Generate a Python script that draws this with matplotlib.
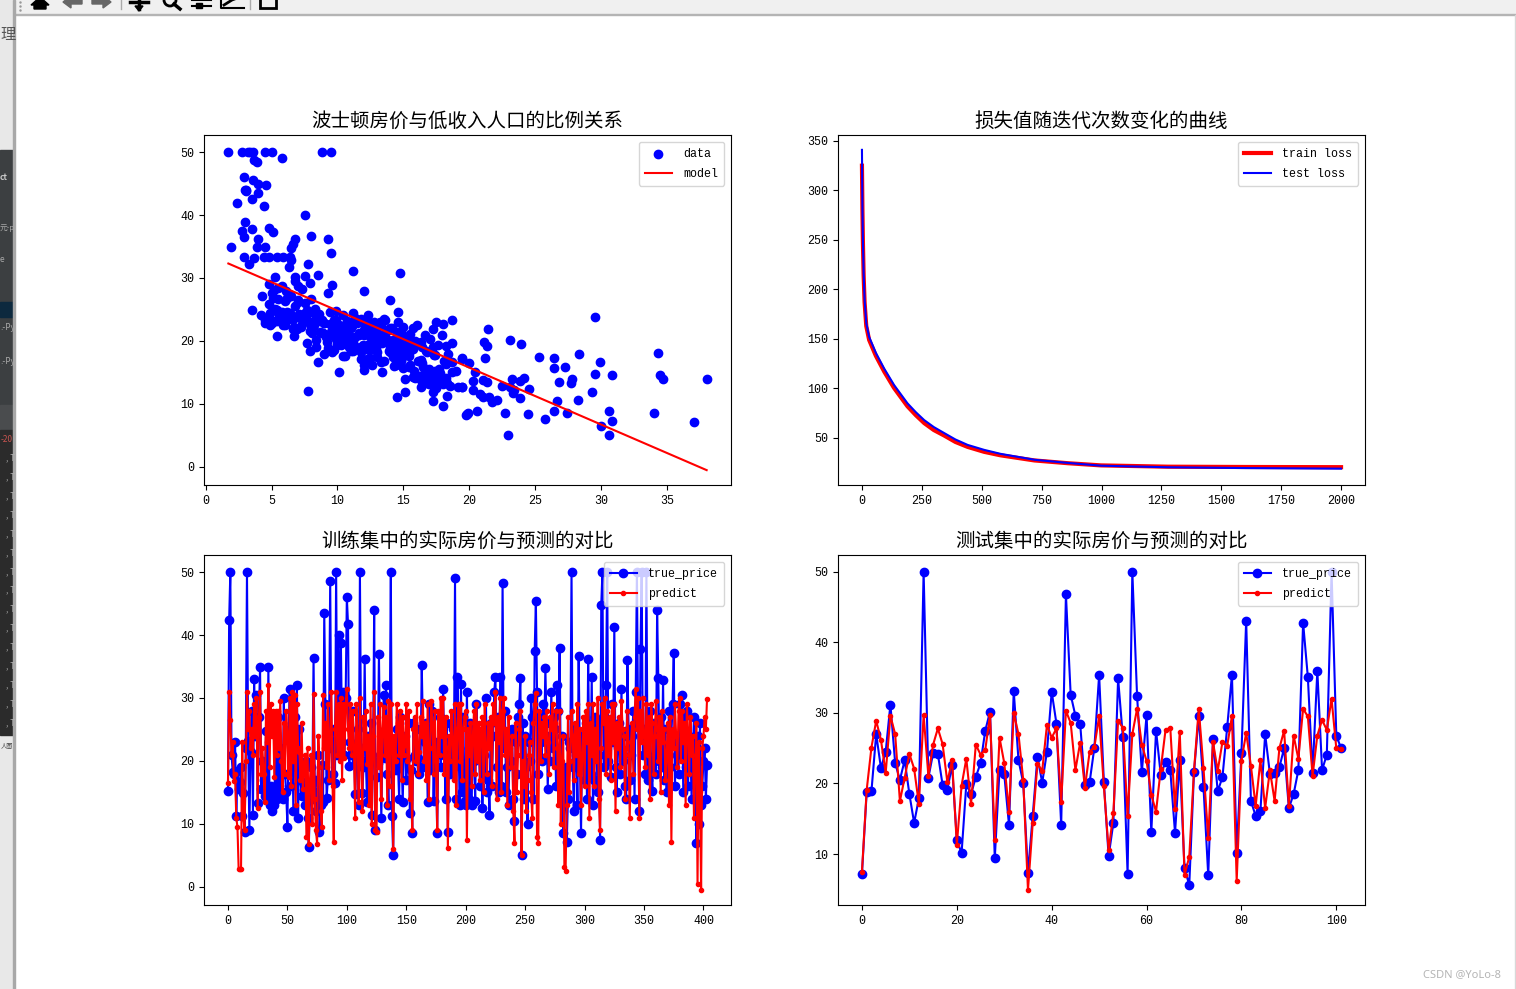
import numpy as np
import matplotlib
matplotlib.use('Agg')
import matplotlib.pyplot as plt
from matplotlib.patches import Rectangle, Polygon, Circle

plt.rcParams['font.family'] = ['Liberation Mono', 'Noto Sans CJK SC', 'DejaVu Sans']
plt.rcParams['axes.unicode_minus'] = False

# scatter: low income share vs price
lstat = [1.7,2.8,3.2,3.4,3.6,4.5,5.0,8.8,9.5,3.7,3.9,5.8,2.9,3.6,4.0,3.0,3.1,3.5,3.1,2.4,4.4,7.5,4.0,4.6,3.0,3.5,4.8,2.8,5.1,6.8,8.0,9.3,6.6,6.5,1.9,3.9,4.5,9.5,2.9,4.0,4.8,4.4,5.4,5.9,6.4,2.9,3.7,6.5,6.3,7.8,11.2,14.7,3.3,8.5,6.8,7.5,7.9,9.6,9.3,12.0,14.0,5.1,6.2,7.0,8.0,3.5,
4.5,4.5,4.9,4.9,5.4,5.7,5.9,6.4,6.7,7.2,7.7,7.4,5.4,6.7,7.8,7.9,8.5,10.1,7.7,8.5,8.4,13.4,12.0,12.0,12.5,12.6,13.0,10.4,11.2,9.3,14.6,14.6,13.5,13.2,12.3,15.7,16.0,17.2,17.5,18.0,18.7,18.7,18.2,17.2,16.3,15.3,14.8,14.0,15.4,14.8,14.0,15.0,14.4,15.1,15.7,15.1,14.5,17.2,17.2,18.0,16.4,16.3,19.1,19.4,19.4,18.4,18.7,18.7,18.3,17.2,16.8,16.3,17.8,19.8,
29.5,21.4,21.1,21.3,23.1,23.9,21.2,19.4,20.0,25.3,26.4,28.3,34.3,29.9,26.4,27.2,29.5,30.8,34.4,34.7,38.0,20.4,20.3,21.0,21.3,23.2,24.1,22.5,24.5,23.8,23.1,23.4,23.8,23.3,26.8,27.8,27.7,29.3,28.2,26.6,26.4,27.4,25.7,24.4,22.7,22.9,30.6,30.8,30.0,30.6,34.0,37.0,20.3,20.8,21.0,21.5,21.7,22.1,20.6,19.7,19.9,19.4,
4.2,4.7,5.1,5.3,5.6,6.0,6.2,6.6,6.9,7.1,7.3,7.6,8.0,8.3,8.6,8.8,9.0,9.2,9.4,9.5,9.7,9.9,10.1,10.2,10.4,10.5,10.7,10.9,11.0,11.2,11.3,11.5,11.7,11.8,12.0,12.1,12.3,12.4,12.6,12.8,12.9,13.1,13.3,13.4,13.6,13.8,13.9,14.1,14.3,14.5,14.6,14.8,15.0,15.2,15.3,15.5,15.7,15.9,16.1,16.4,16.6,16.8,17.0,17.3,17.6,17.9,18.1,
8.1,8.4,8.7,9.0,9.2,9.6,9.8,10.0,10.3,10.6,10.8,11.1,11.4,11.6,11.9,12.2,12.5,12.7,13.0,13.2,13.5,13.7,14.0,14.2,14.4,14.7,14.9,15.2,15.4,15.6,15.8,16.0,16.3,16.5,16.7,16.9,17.1,17.4,17.7,18.0,18.2,18.5,
4.3,4.8,5.2,5.5,5.8,6.1,6.5,6.8,7.0,7.5,7.9,8.2,8.9,9.1,9.4,9.9,10.3,10.6,11.0,11.3,11.8,12.4,12.9,13.3,13.8,14.3,15.1,15.9,16.7,17.5,18.3,19.0,
4.6,5.0,5.4,5.7,6.0,6.3,6.6,6.9,7.2,7.5,7.8,8.1,8.4,8.7,9.0,9.3,9.6,9.9,10.2,10.5,9.8,10.0,10.3,10.5,10.2,9.7,10.6,11.0,11.4,11.8,12.2,11.6,12.0,12.4,12.8,13.2,13.6,14.0,14.4,13.8,14.2,14.6,15.0,15.4,14.8,15.2,15.5,16.2,16.6,17.0,17.4,17.8,18.2,16.5,16.9,17.3,17.7,18.1,16.8,17.2,17.6,18.0,
5.0,5.5,6.0,6.5,7.0,4.8,5.3,5.8,6.3,6.8,7.3,8.2,8.8,9.4,10.0,10.6,11.2,11.8,12.4,13.0]
medv = [50,50,50,50,50,50,50,50,50,48.7,48.4,49,46,45.5,44.9,43.9,43.8,42.5,43.9,41.9,41.4,40,43.5,44.7,38.9,37.8,38,37.4,37.3,36.2,36.6,36.2,35.4,34.8,35,34.9,35,34,36.5,36.2,33.4,33.3,33.3,33.3,33.3,33.4,33.2,32.9,31.7,32.3,31.1,30.8,32.2,30.5,30.2,30.3,29.2,28.9,27.6,28,26.5,26.8,26.8,26.2,26.7,24.9,
23.3,22.9,24.4,22.5,24.9,23.8,22.5,24.4,22.2,24.1,24.9,23.3,20.8,20.8,12,18.4,16.7,15.1,19.7,24.1,20.1,15.1,16.2,15.4,17.3,16.2,17.5,17.6,18.4,18.9,24.6,23,23.5,23,22.9,22,22.5,21.9,23,22.7,23.3,19.7,19.2,19,19.8,20.6,21.4,22,18.1,17,18.3,15.7,16.2,14,14.3,11.9,11.1,11.9,10.5,9.7,16.5,12.7,12.7,12.7,17.3,17.9,16.7,15.1,13.3,13.8,15.1,13.8,14.9,8.4,
23.8,21.9,19.8,19.2,20.1,19.5,17.3,17.1,16.5,17.5,17.3,17.9,18.1,16.7,15.7,15.9,14.8,14.6,14.6,14,14,15.1,13.7,13.8,13.5,14,14.1,12.9,12.4,13.7,12.7,12.2,11,11.7,13.5,14,13.3,11.9,10.6,10.5,8.9,8.6,7.6,8.4,8.6,5,8.9,7.3,6.5,5,8.6,7.1,12.2,11.6,11.1,11.1,10.3,10.6,8.9,8.3,8.6,12.7,
24.1,23.7,23.2,25.1,24.2,23,24.6,23.5,21.9,24.3,22.7,23.9,22.4,25,24.3,21.2,22.8,19.9,24.6,21.5,23.4,20.3,22.6,19.6,24.2,21,23.2,19.1,22.1,24.4,20.6,22.9,18.7,23.5,20.9,22.3,24.1,19.4,21.6,23,18.9,21.1,22.6,19.7,23.4,20.2,18.4,22,19.3,21.4,18.6,20.5,22.2,17.9,19.6,21.1,18.8,20,16.9,19.1,21,18.2,20.3,17.8,19.4,20.9,16.9,
21.3,19.1,23.1,17.9,20.7,18.3,22.1,19.6,21.7,17.6,20.1,22.4,18.7,21.2,19.3,17.1,20.8,18.9,22.3,19.9,16.8,21.4,18.4,20.2,16.5,19.3,17.4,20.7,15.9,18.8,15.2,19.5,17,14.6,18.4,15.6,13.4,17.8,14.7,13.1,16.3,12.9,
27.2,25.9,28.1,26.7,24.6,27.9,23.8,25.5,28.7,26.1,21.6,22.6,21.2,20.6,18.6,24.8,19.3,22.5,18.4,23.6,17.1,21.9,20.3,16.7,21.7,16.1,19.3,14.2,13.5,12.5,11.3,15.2,
23.6,22.8,23.1,24.2,22.6,23.5,21.9,23.8,22.3,24.5,23.2,22.1,23.7,21.4,22.9,20.8,21.7,23.4,20.5,22.4,21.1,19.4,19.9,22.2,20.3,18.5,21.5,20.6,19.1,18.2,22.7,20.9,21.8,19.6,19.2,20.4,21.2,18.8,18.1,19.7,17.4,18.5,19.3,17.6,16.8,18.1,16.2,14.4,13.8,14.7,15.3,13.6,14.2,15.8,13.2,14.9,15.5,14,13.3,14.5,15.1,13.7,
27.6,28.4,26.3,27.1,26.5,29.1,30.2,28.8,27.4,29.6,28.2,24.5,23.3,22.7,21.6,20.4,19.8,19.1,18.6,18.2]

# model line endpoints
model_x = [1.73, 37.97]
model_y = [32.3, -0.5]

# loss curves
iters = [0,2,4,7,11,18,30,58,93,134,190,225,260,300,343,390,441,510,578,720,860,998,1277,1600,2000]
train_loss = [325,280,248,214,187,163,149,133,117,100.5,82,73,65,58,52.5,46,41,36,32.5,27.3,24.5,22.3,21,20.7,20.5]
test_loss = [341,283,250,217,190,166,152,136,120,103.5,85,76,68,61,55,48.5,43,38,34,28,24.8,22,20.4,19.6,19]

# training set, 404 samples
train_true = [15.3,42.4,50,21,18.2,17.9,23,11.3,18.4,15.5,16.6,19.1,11.2,14.9,8.8,22,50,23.1,9,21.5,
28,11.5,33,24,30.5,13.3,27,35,15.6,20,17,14.5,24.7,14,35,13,16,12,15,13,
24.5,14,27,16,22,15,14,30,18,15,9.6,24,31.5,16,26,12,27,19,32,11,
25,17,14.5,19,15.4,13,20,11,6.4,13.8,19,16.3,36.4,17,12,15,21,8.7,13,19.4,
13.5,43.5,29,14.1,17,24,48.6,22,18,25,16.5,50,21,40,22,38.8,23,31,21,30,
46,41.8,19.2,23,21,28,21.7,14.7,20,25,13,50,22,14.9,19,36.2,20,13.5,24,21,
26,11.5,20,44,9,17.5,19.7,37,21,11,22,30.5,20.5,32,18,13,23.5,50,11.2,5,
23,18.5,25,19.5,14,27,21,13.5,22,24,17,20.5,26,11.7,18.5,8.5,26,21,20,25,
20.5,18,19,35.3,25,19,23,26,13.5,29,18.6,20,28,13.7,23,21,8.5,22,27,19,
23,31.5,21,14,26,8.8,21,18,20,25,19,49,14,33.4,22,13,32.3,15,27,13.7,
13,31,18,14,26,13,25,20,13.7,29,22,23,16,24,12.5,21,18,30,15,17,
11.5,26,16,24,31,33.4,19,27,15,33.4,16,48.3,22,28,15,19,13,24,20,25,
14,10.5,23,18,27,29,33.2,5,26,14,24,19,10,23,20,30,27,14,37.4,45.4,
31,18,27,23,20,29,24,34.7,26,15.6,24,20,31,22,27,25,16,32,28,38,
17.5,24,8.5,13,19,7.2,14,23,22,50,19,12,25,21,13,36.6,21,8.5,24,20,
17,26,14,36.2,20,18,33.4,13,17,27,22,15,26,7.5,44.8,50,19,21,32,50,
20,24,17.5,29,23,41.3,19,15,22,26,18,31.5,20,24,16,14,36,25,17,21,
24,28,14,31,50,26,12,37.7,50,21,25,18,50,17,24,28,19,15.3,26,21,
18,43.9,33.2,20,27,19,32.8,17,25,15,22,28,19,24,29,37.2,16,24,21,18,
29,22,30.4,15,27,19,28,16,24,22,14,21,27,18,7,24,10,26,13,16,
20,22,14,19.4]
train_pred = [16.5,31,26.5,21,23,16.8,18,11,9.5,2.8,2.8,2.8,23,11,9,20,31,25,28,22,
25,21,29,24,30,12.5,27,31,18,22,18,13.5,28,23,32,19,29,24,28,17.5,
28,21,28,22,29.5,20,15,26,18,28,24,17.5,30,16,31,20,30.5,13,29,22,
21.5,17,26,15.5,19.5,21,8,22,6.8,17,21,10,30.7,14,9,6.9,24,19,12,9.6,
30.5,22,26,19,29,17,24,31,16,7.1,25,31,21,29,20,30,17,29,20.5,29,
31.5,25,22,29,21,28,22,11,29,24,13.5,30,20.5,12,27,22,28,19.5,24,13,
29,10,24,31,9,8.7,27,19,29,14,25,28.5,21,27,13,29.5,16,29,24,6,
24,20,29,26,21,28,17,27,21,22.5,29,20,28,14,19,9.1,25,27,20,29,
18,21.5,27,24,29.5,20,26,17,29,14,22,29.5,26,18,28,20,9,28,21,30,
24,30,18,27,22,6.2,24,20,28,23,17,29,13,25,29,20,29,17,25,27,
28,7.4,25,21,26,16,24,28,18,29,20,26,17,25,27,15,29,22,18,26,
22,27,16,29,26,31,14,27,23,30,15,28,30,21,25,13,27,22,19,24,
12,7,26,15,21,25,28,5,20,16,24,12,17,21,23,15,11,26,29,30.8,
8,7,28,20,26,24,27,21,28,23,18,27,25,29,19,26,28,22,13,28,
10,20,24,3.1,2.5,13,27,15,20,28,24,17,26,21,29,18,25,13,21,27,
16,28,23,29,11,26,21,29,16,25,20,30,14,9,22,29,26,30,18,28,
21,27,17,29,23,29,12,26,22,27,19,29.5,25,24,14,22,28,21,11,23,
26,18,27,31.5,25,30,11,28,23,30,24,19,29,21,27,14,29,26,18,24,
29.5,25,20,27,15,28,23,25,17,21,26,13,27,7.2,25,22,29,24,19,28,
30,20,28,23,26,13,29,25,18,27,21,24,11,20,26,0.5,23,15,-0.4,22,
24,27,25,29.9]

# test set, 102 samples
test_true = [7.2,18.8,18.9,27,22.2,24.5,31.2,22.9,20.5,23.3,18.5,14.4,17.9,50,20.8,24.3,24.2,19.8,19.1,22.6,
12,10.1,19.9,18.5,20.9,22.9,27.5,30.2,9.4,21.9,21.3,14.1,33.1,23.3,20.1,7.3,15.4,23.8,20.1,24.5,
33,28.5,14.1,46.8,32.6,29.6,28.5,19.8,20.2,25.1,35.4,20.2,9.7,14.4,34.9,26.6,7.2,50,32.4,21.6,
29.7,13.1,27.5,21.2,23.1,21.9,13,23.3,8,5.6,21.6,29.6,19.5,7,26.3,18.9,20.9,28,35.4,10.1,
24.3,43.1,17.5,15.4,16.1,27,21.4,21.5,22.3,25,16.5,18.5,21.9,42.8,35.1,21.5,36,21.9,24.1,50,
26.8,25]
test_pred = [7.5,19.1,25.1,28.9,26.2,21.5,29.6,27,17.5,20.8,24.2,22.1,17.1,29.7,21.1,25.5,27.8,25.6,20.2,23.3,
11.3,19.7,23.5,17.1,25.5,24.1,24.8,29.7,12,26.5,22.9,16,30,27,20.5,4.9,14.4,22.8,21.8,28.3,
26.5,27.8,17.4,30.3,28.6,21.9,25.8,19.4,24.5,25.2,29.5,19.6,10.5,15.8,28.9,27.9,15.4,27,30.6,25.5,
23.2,18.4,16,22.1,27.6,27.9,16.4,27.3,7,9.6,21.8,30.6,22.2,12.2,25.9,21.8,25.9,25.3,29.6,6.2,
23.2,27.2,22.5,16.8,23.3,16.5,21.9,17.5,25,27.5,16.8,26.8,23.5,30.6,29.5,21.1,26.8,29,27.6,32,
25,24.9]

W, H = 1516, 989
fig = plt.figure(figsize=(W / 100, H / 100), dpi=100)


def place(x0, y0, x1, y1):
    return fig.add_axes([x0 / W, 1 - y1 / H, (x1 - x0) / W, (y1 - y0) / H])


# window chrome behind the charts, in pixel coordinates
bg = fig.add_axes([0, 0, 1, 1], zorder=-1)
bg.set_xlim(0, W)
bg.set_ylim(H, 0)
bg.axis('off')
bg.add_patch(Rectangle((0, 0), W, 14, color='#f0f0f0'))
bg.add_patch(Rectangle((0, 14), W, 1, color='#b4b4b4'))
bg.add_patch(Rectangle((0, 0), 14, H, color='#e8e8e8'))
bg.add_patch(Rectangle((0, 150), 14, 255, color='#3c3f41'))
bg.add_patch(Rectangle((0, 302), 14, 15, color='#0d293e'))
bg.add_patch(Rectangle((0, 405), 14, 25, color='#4a4c4e'))
bg.add_patch(Rectangle((0, 430), 14, 305, color='#2b2b2b'))
bg.add_patch(Rectangle((13, 0), 2, H, color='#a8a8a8'))
bg.add_patch(Rectangle((W - 1, 15), 1, H, color='#d8d8d8'))
# toolbar icons, cut off by the top of the picture
bg.add_patch(Polygon([(31, 5), (40, -3), (49, 5), (46, 5), (46, 9), (34, 9), (34, 5)], color='black'))
bg.add_patch(Polygon([(63, 2), (71, -4), (71, -1), (82, -1), (82, 4), (71, 4), (71, 8)], color='#666666'))
bg.add_patch(Polygon([(111, 2), (103, -4), (103, -1), (92, -1), (92, 4), (103, 4), (103, 8)], color='#666666'))
bg.plot([139, 139], [-2, 9], color='black', lw=2.5)
bg.plot([130, 148], [2, 2], color='black', lw=2.5)
bg.add_patch(Polygon([(135, 6), (143, 6), (139, 11)], color='black'))
bg.add_patch(Circle((170, 0), 6, fill=False, ec='black', lw=2))
bg.plot([174, 180], [4, 9], color='black', lw=2.5)
bg.plot([192, 211], [0, 0], color='black', lw=1.5)
bg.plot([192, 211], [6, 6], color='black', lw=1.5)
bg.add_patch(Rectangle((196, 3), 6, 5, color='black'))
bg.plot([221, 221, 244], [-2, 8, 8], color='black', lw=1.5)
bg.plot([224, 232, 240], [5, 0, -3], color='black', lw=2)
bg.add_patch(Rectangle((260, -3), 16, 11, fill=False, ec='black', lw=2))
bg.plot([121, 121], [0, 9], color='#aaaaaa', lw=1)
bg.plot([250, 250], [0, 9], color='#aaaaaa', lw=1)
for dot_y in [2, 6, 10]:
    bg.plot([20], [dot_y], '.', color='#999999', ms=1.5)
# scraps of the editor window on the left
side_font = ['Noto Sans CJK SC', 'DejaVu Sans']
bg.text(0, 35, '理', fontsize=11, color='#555555', va='center', family=side_font)
bg.text(0, 178, 'ct', fontsize=6, color='#c8c8c8', va='center', fontweight='bold', family=side_font)
bg.text(0, 228, '元-p', fontsize=5.5, color='#a9a9a9', va='center', family=side_font)
bg.text(0, 260, 'e', fontsize=6, color='#a9a9a9', va='center', family=side_font)
bg.text(0, 327, '.-Py', fontsize=6, color='#a9a9a9', va='center', family=side_font)
bg.text(0, 361, '.-Py', fontsize=6, color='#a9a9a9', va='center', family=side_font)
bg.text(1, 439, '-20', fontsize=6, color='#c75450', va='center', family=side_font)
for row in range(15):
    bg.text(6, 458 + 18.9 * row, ', T', fontsize=6, color='#b0b0b0', va='center', family=side_font)
bg.text(1, 745, '人图', fontsize=4.5, color='#444444', va='center', family=side_font)
bg.text(1501, 975, 'CSDN @YoLo-8', fontsize=8, color='#b5b5b5', ha='right', va='center',
        family=['Noto Sans', 'DejaVu Sans'])

tick_size = 8.4
leg_args = dict(loc='upper right', fontsize=8.4, handlelength=2.38, handletextpad=0.95,
                borderpad=0.48, labelspacing=0.72, borderaxespad=0.6)
title_args = dict(fontsize=14, pad=6)

ax1 = place(204, 135, 731, 485)
ax1.scatter(lstat, medv, c='blue', label='data')
ax1.plot(model_x, model_y, color='red', label='model')
ax1.set_title('波士顿房价与低收入人口的比例关系', **title_args)
ax1.set_ylim(-2.86, 52.7)
ax1.legend(**leg_args)

ax2 = place(838, 135, 1365, 485)
ax2.plot(iters, train_loss, color='red', lw=3, label='train loss')
ax2.plot(iters, test_loss, color='blue', label='test loss')
ax2.set_title('损失值随迭代次数变化的曲线', **title_args)
ax2.set_ylim(2.5, 356)
ax2.legend(**leg_args)

ax3 = place(204, 555, 731, 905)
ax3.plot(np.arange(len(train_true)), train_true, 'o-', color='blue', label='true_price')
ax3.plot(np.arange(len(train_pred)), train_pred, '.-', color='red', label='predict')
ax3.set_title('训练集中的实际房价与预测的对比', **title_args)
ax3.set_ylim(-2.86, 52.7)
ax3.legend(**leg_args)

ax4 = place(838, 555, 1365, 905)
ax4.plot(np.arange(len(test_true)), test_true, 'o-', color='blue', label='true_price')
ax4.plot(np.arange(len(test_pred)), test_pred, '.-', color='red', label='predict')
ax4.set_title('测试集中的实际房价与预测的对比', **title_args)
ax4.set_ylim(2.77, 52.4)
ax4.legend(**leg_args)

for ax in [ax1, ax2, ax3, ax4]:
    ax.tick_params(labelsize=tick_size)

print(len(lstat), len(medv), len(train_true), len(train_pred), len(test_true), len(test_pred))
fig.savefig('out.png', dpi=100)
